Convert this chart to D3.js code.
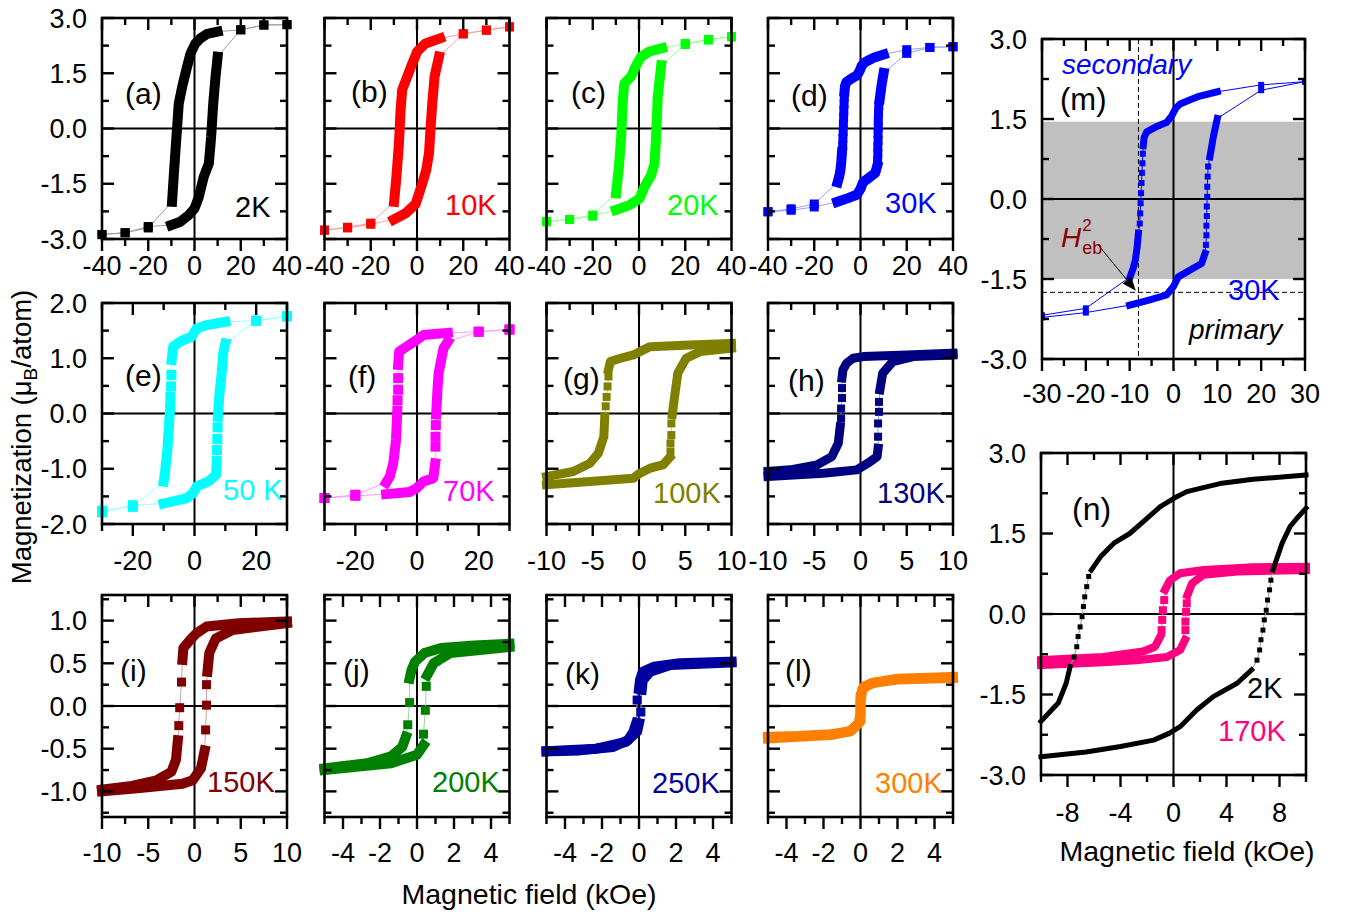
<!DOCTYPE html>
<html>
<head>
<meta charset="utf-8">
<script src="https://cdn.jsdelivr.net/npm/d3@7"></script>
<style>
  html, body { margin: 0; padding: 0; background: #fff; }
  svg { display: block; }
</style>
</head>
<body>
<svg id="fig" width="1349" height="916"></svg>
<script>
// ---------------------------------------------------------------------------
// Hysteresis loops M(H). Each branch is a list of [H (kOe), M (muB/atom)]
// points; null separates runs. A run of several points is a densely measured
// stretch (drawn as a thick band), a run of one point is a single marker.
// ---------------------------------------------------------------------------
const _ = null;

const T2K_down = [[40,2.82],_,[30,2.81],_,[20,2.68],_,[10,2.63],[5.5,2.57],[2.6,2.45],[0.4,2.31],[-1.7,2.04],[-3.2,1.68],[-5.3,1.14],[-6.8,0.68],[-7.5,0.05],[-8.3,-0.67],[-9,-1.31],[-9.7,-1.99],_,[-20,-2.7],_,[-30,-2.83],_,[-40,-2.88]];
const T2K_up = [[-40,-2.88],_,[-30,-2.83],_,[-20,-2.66],_,[-10,-2.62],[-6.1,-2.53],[-2.5,-2.35],[0,-2.17],[1.9,-1.85],[4,-1.31],[6.2,-0.95],[7.2,-0.22],[8.1,0.68],[9.1,1.41],[10,1.95],_,[20,2.68],_,[30,2.81],_,[40,2.82]];

const T10K_down = [[40,2.76],_,[30,2.67],_,[20,2.57],_,[10,2.45],[3.7,2.31],[0.1,2.09],[-2,1.77],[-4.2,1.41],[-6.4,1.05],[-7.1,0.5],[-7.8,-0.4],[-8.9,-1.31],[-9.9,-1.99],_,[-20,-2.57],_,[-30,-2.68],_,[-40,-2.76]];
const T10K_up = [[-40,-2.76],_,[-30,-2.7],_,[-20,-2.6],_,[-10,-2.47],[-4.9,-2.3],[-0.6,-2.05],[2.3,-1.49],[4,-1.13],[5.2,-0.67],[5.9,0.05],[6.6,0.68],[7.6,1.41],[9.5,1.95],_,[20,2.57],_,[30,2.67],_,[40,2.76]];

const T20K_down = [[40,2.49],_,[30,2.42],_,[20,2.31],_,[10,2.18],[4.5,2.09],[0.9,1.95],[-1.2,1.72],[-3.4,1.41],[-6.3,1.23],[-7,0.77],[-7.7,-0.22],[-8.7,-1.04],[-9.9,-1.76],_,[-20,-2.35],_,[-30,-2.47],_,[-40,-2.53]];
const T20K_up = [[-40,-2.53],_,[-30,-2.47],_,[-20,-2.38],_,[-10,-2.21],[-4.1,-2.08],[0.2,-1.9],[2.4,-1.58],[5.3,-1.26],[6.7,-0.95],[7.4,-0.22],[8.1,0.86],[9.6,1.72],_,[20,2.28],_,[30,2.4],_,[40,2.49]];

const T30K_down = [[40,2.22],_,[30,2.2],_,[20,2.14],_,[10,2.01],[6,1.93],[3.8,1.86],[1.5,1.78],[0.5,1.7],[-0.4,1.56],[-1.5,1.44],[-3.8,1.36],[-6.1,1.26],[-6.7,1.15],[-6.9,1.0],_,[-7.0,0.85],_,[-7.1,0.67],_,[-7.2,0.49],_,[-7.3,0.3],_,[-7.4,0.11],_,[-7.5,-0.08],_,[-7.6,-0.27],_,[-7.7,-0.46],_,[-8.0,-0.64],[-8.3,-0.9],[-8.7,-1.14],[-9.2,-1.3],[-9.9,-1.46],_,[-20,-2.05],_,[-30,-2.18],_,[-40,-2.26]];
const T30K_up = [[-40,-2.26],_,[-30,-2.22],_,[-20,-2.13],_,[-10,-1.99],[-5.4,-1.89],[-1.6,-1.8],[0,-1.64],[1.1,-1.46],[3.8,-1.33],[6.4,-1.21],[7.2,-1.02],_,[7.4,-0.86],_,[7.5,-0.68],_,[7.5,-0.5],_,[7.6,-0.32],_,[7.6,-0.14],_,[7.7,0.04],_,[7.7,0.23],_,[7.8,0.42],_,[7.9,0.61],_,[8.3,0.79],[9.1,1.17],[10,1.51],_,[20,2.04],_,[30,2.2],_,[40,2.22]];

const T50K_down = [[30,1.76],_,[20,1.68],_,[10,1.66],[4,1.6],[0.7,1.54],[-0.9,1.39],[-4.7,1.3],[-6.9,1.21],[-7.4,0.97],_,[-7.5,0.7],_,[-7.6,0.49],_,[-7.8,0.3],_,[-7.9,0.12],_,[-8.1,-0.06],[-8.8,-0.66],[-9.6,-1.08],[-10,-1.23],_,[-20,-1.69],_,[-30,-1.76]];
const T50K_up = [[-30,-1.79],_,[-20,-1.66],_,[-10,-1.63],[-2.5,-1.53],[-0.4,-1.44],[0.7,-1.32],[4.5,-1.23],[7,-1.11],[7.2,-0.86],_,[7.3,-0.66],_,[7.4,-0.46],_,[7.5,-0.25],_,[7.6,-0.06],[8,0.3],[8.8,0.73],[9.3,1.09],[10,1.27],_,[20,1.68],_,[30,1.76]];

const T70K_down = [[30,1.52],_,[20,1.48],_,[10,1.46],[2.1,1.42],[-0.1,1.33],[-3.4,1.21],[-5.8,1.12],[-6.1,0.88],_,[-6.1,0.64],_,[-6.1,0.43],_,[-6.3,0.24],_,[-6.4,0.05],[-6.8,-0.48],[-7.7,-0.9],[-8.8,-1.14],[-10,-1.25],_,[-20,-1.47],_,[-30,-1.53]];
const T70K_up = [[-30,-1.53],_,[-20,-1.49],_,[-10,-1.46],[-2.3,-1.42],[-0.1,-1.35],[2.1,-1.23],[5.3,-1.17],[5.9,-0.9],_,[6.0,-0.6],_,[6.0,-0.42],_,[6.1,-0.21],_,[6.2,-0.02],[6.6,0.4],[7,0.73],[8.6,1.18],[10,1.3],_,[20,1.48],_,[30,1.52]];

const T100K_down = [[10,1.27],[5.5,1.24],[1.2,1.21],[0.1,1.12],[-0.6,1.06],[-2,1.0],[-3.1,0.94],[-3.3,0.79],_,[-3.3,0.67],_,[-3.4,0.49],_,[-3.5,0.3],_,[-3.6,0.13],_,[-3.7,-0.06],[-3.8,-0.42],[-4.4,-0.72],[-5.3,-0.9],[-7.1,-1.05],[-10,-1.14]];
const T100K_up = [[-10,-1.29],[-5.3,-1.23],[-0.6,-1.17],[0.1,-1.08],[1.2,-0.99],[2.6,-0.93],[3.3,-0.8],_,[3.4,-0.69],_,[3.4,-0.54],_,[3.5,-0.39],_,[3.5,-0.18],_,[3.6,-0.02],[3.9,0.37],[4.2,0.73],[5.1,1.0],[6.6,1.12],[10,1.18]];

const T130K_down = [[10,1.09],[5,1.06],[0.3,1.03],[-0.8,1.0],[-1.5,0.91],[-1.9,0.79],[-2,0.64],_,[-2,0.46],_,[-2,0.28],_,[-2.1,0.09],_,[-2.1,-0.09],_,[-2.2,-0.24],[-2.4,-0.54],[-3.1,-0.78],[-4.7,-0.93],[-7.6,-1.02],[-10,-1.05]];
const T130K_up = [[-10,-1.14],[-4,-1.08],[-0.4,-1.02],[0.8,-0.9],[1.8,-0.78],[1.9,-0.63],_,[1.9,-0.42],_,[1.9,-0.18],_,[2.0,0.03],_,[2.0,0.21],_,[2.1,0.43],[2.4,0.73],[3.5,0.94],[5.7,1.03],[10,1.06]];

const T150K_down = [[10,0.99],[4.8,0.97],[1.3,0.93],[0.2,0.85],[-0.5,0.77],[-1.2,0.68],[-1.3,0.54],_,[-1.4,0.28],_,[-1.6,-0.02],_,[-1.7,-0.23],_,[-1.8,-0.4],[-2,-0.63],[-2.5,-0.77],[-4.1,-0.87],[-7,-0.94],[-10,-0.98]];
const T150K_up = [[-10,-1.0],[-5.9,-0.96],[-1.3,-0.91],[-0.2,-0.87],[0.7,-0.73],[1.1,-0.52],_,[1.2,-0.28],_,[1.3,0.01],_,[1.3,0.25],_,[1.4,0.4],[1.6,0.62],[2.3,0.79],[4.1,0.89],[10,0.97]];

const T200K_down = [[5,0.73],[3.1,0.71],[1.3,0.68],[0.4,0.62],[-0.1,0.52],[-0.3,0.42],[-0.4,0.32],_,[-0.4,0.04],_,[-0.5,-0.22],_,[-0.6,-0.36],[-0.8,-0.48],[-1.4,-0.59],[-2.7,-0.67],[-5,-0.73]];
const T200K_up = [[-5,-0.75],[-1.4,-0.67],[0,-0.57],[0.35,-0.46],_,[0.35,-0.33],_,[0.45,-0.05],_,[0.5,0.23],_,[0.55,0.36],[0.9,0.5],[1.8,0.62],[5,0.69]];

const T250K_down = [[5,0.52],[2.2,0.5],[0.8,0.46],[0.2,0.4],[0.05,0.3],[0,0.2],_,[-0.1,0.07],_,[-0.15,-0.2],[-0.3,-0.3],[-0.6,-0.4],[-1.4,-0.48],[-3.2,-0.52],[-5,-0.53]];
const T250K_up = [[-5,-0.53],[-2.3,-0.5],[-0.7,-0.42],[-0.1,-0.3],[0,-0.2],_,[0.1,-0.07],_,[0.15,0.19],[0.2,0.3],[0.6,0.4],[1.7,0.48],[5,0.51]];

const T300K_down = [[5,0.34],[2,0.32],[0.9,0.28],[0.2,0.23],[0,0.13],[0,-0.09],[-0.1,-0.2],[-0.6,-0.3],[-1.6,-0.33],[-3.4,-0.35],[-5,-0.36]];
const T300K_up = [[-5,-0.38],[-3.4,-0.36],[-1.6,-0.34],[-0.5,-0.29],[0,-0.18],[0,0.05],[0.1,0.2],[0.6,0.27],[2,0.31],[5,0.33]];

// minor loops (+/-10 kOe) of panel (n)
const N2K_down = [[10,2.59],[6,2.51],[3.5,2.43],[1,2.28],[0.06,2.16],[-1,2.0],[-2,1.78],[-3.3,1.5],[-4.5,1.32],[-5.5,1.07],[-6.2,0.82],_,[-6.4,0.7],_,[-6.55,0.51],_,[-6.7,0.32],_,[-6.8,0.14],_,[-6.9,-0.05],_,[-7.05,-0.24],_,[-7.2,-0.42],_,[-7.3,-0.61],_,[-7.5,-0.8],_,[-7.8,-0.98],[-8.1,-1.29],[-8.7,-1.66],[-10,-2.0]];
const N2K_up = [[-10,-2.66],[-6.6,-2.57],[-4,-2.47],[-1.5,-2.35],[-0.3,-2.22],[0.5,-2.1],[1.75,-1.79],[3,-1.54],[4.8,-1.29],[5.9,-1.04],_,[6.3,-0.86],_,[6.5,-0.67],_,[6.6,-0.48],_,[6.75,-0.3],_,[6.85,-0.11],_,[7.0,0.07],_,[7.1,0.26],_,[7.25,0.45],_,[7.35,0.63],_,[7.5,0.82],[8.2,1.32],[8.8,1.63],[9.3,1.78],[10,1.97]];
const N170K_down = [[10,0.88],[6,0.87],[2.25,0.82],[0.5,0.76],[-0.26,0.63],[-0.64,0.45],_,[-0.7,0.26],_,[-0.8,0.07],_,[-0.85,-0.11],_,[-0.9,-0.3],_,[-1,-0.42],[-1.4,-0.61],[-2.3,-0.7],[-5.3,-0.8],[-10,-0.86]];
const N170K_up = [[-10,-0.95],[-5.3,-0.9],[-2.8,-0.86],[-0.5,-0.8],[0.5,-0.67],[0.87,-0.48],_,[0.9,-0.3],_,[0.9,-0.14],_,[0.95,0.04],_,[1.0,0.2],_,[1.05,0.35],[1.4,0.57],[2.25,0.73],[4.8,0.79],[10,0.82]];

// tick labels
const xTicks40 = [-40,-20,0,20,40];
const xTicks30 = [-20,0,20];
const xTicks10 = [-10,-5,0,5,10];
const xTicks5 = [-4,-2,0,2,4];
const xTicksM = [-30,-20,-10,0,10,20,30];
const xTicksN = [-8,-4,0,4,8];
const yTicks3 = [3,1.5,0,-1.5,-3];
const yTicks2 = [2,1,0,-1,-2];
const yTicks1 = [1,0.5,0,-0.5,-1];

// panel tags and temperatures
const panelTags = ['(a)','(b)','(c)','(d)','(e)','(f)','(g)','(h)','(i)','(j)','(k)','(l)','(m)','(n)'];
const tempLabels = ['2K','10K','20K','30K','50 K','70K','100K','130K','150K','200K','250K','300K','30K','2K','170K'];

// panel (m) annotations
const bandM = [-1.5, 1.45];        // shaded M range
const hebField = -8;               // dashed vertical (kOe)
const hebMoment = -1.75;           // dashed horizontal
const arrowFrom = [-17.2, -0.86];
const arrowTo = [-8.6, -1.72];

// ---------------------------------------------------------------------------
const FONT = '"Liberation Sans", Arial, Helvetica, sans-serif';
const svg = d3.select('#fig');

const colX = [102, 324.5, 546.5, 768];
const rowY = [{y:18, h:221}, {y:303, h:221}, {y:595, h:222}];
const rowFmt = [
  {yd:[-3,3], yMinor:0.75, yMajor:1.5, yLab:yTicks3, xLabY:275},
  {yd:[-2,2], yMinor:0.5, yMajor:1, yLab:yTicks2, xLabY:570},
  {yd:[-1.3,1.3], yMinor:0.25, yMajor:0.5, yLab:yTicks1, xLabY:862}
];

const C = {
  a:'#000000', b:'#ff0000', c:'#00ff00', d:'#0000ff', e:'#00ffff', f:'#ff00ff',
  g:'#808000', h:'#000080', i:'#800000', j:'#008000', k:'#0000a0', l:'#ff8000',
  pink:'#ff0080'
};

function gridPanel(idx, col, row, xd, xMinor, xMajor, xLab, series, color, band, marker, tagPos, tempPos) {
  const r = rowY[row], f = rowFmt[row];
  return {
    x: colX[col], y: r.y, w: 185, h: r.h, xd, yd: f.yd,
    xMinor, xMajor, yMinor: f.yMinor, yMajor: f.yMajor,
    xLab, yLab: col === 0 ? f.yLab : null, xLabY: f.xLabY,
    series: series.map(s => ({down: s[0], up: s[1], color, band, marker, thin: 0.62})),
    texts: [
      {t: panelTags[idx], x: tagPos[0], y: tagPos[1], size: 30, fill: '#000'},
      {t: tempLabels[idx], x: tempPos[0], y: tempPos[1], size: 29, fill: color}
    ]
  };
}

const panels = [
  gridPanel(0, 0, 0, [-40,40], 10, 20, xTicks40, [[T2K_down, T2K_up]], C.a, 10, 9, [125,104], [235,217]),
  gridPanel(1, 1, 0, [-40,40], 10, 20, xTicks40, [[T10K_down, T10K_up]], C.b, 10, 9, [351,102], [445,215]),
  gridPanel(2, 2, 0, [-40,40], 10, 20, xTicks40, [[T20K_down, T20K_up]], C.c, 10, 9, [571,103], [667,215]),
  gridPanel(3, 3, 0, [-40,40], 10, 20, xTicks40, [[T30K_down, T30K_up]], C.d, 10, 9, [791,106], [885,213]),
  gridPanel(4, 0, 1, [-30,30], 10, 20, xTicks30, [[T50K_down, T50K_up]], C.e, 10, 10, [125,386], [223,500]),
  gridPanel(5, 1, 1, [-30,30], 10, 20, xTicks30, [[T70K_down, T70K_up]], C.f, 10, 10, [348,387], [443,501]),
  gridPanel(6, 2, 1, [-10,10], 2.5, 5, xTicks10, [[T100K_down, T100K_up]], C.g, 9, 8, [563,389], [653,503]),
  gridPanel(7, 3, 1, [-10,10], 2.5, 5, xTicks10, [[T130K_down, T130K_up]], C.h, 9, 8, [788,391], [877,503]),
  gridPanel(8, 0, 2, [-10,10], 2.5, 5, xTicks10, [[T150K_down, T150K_up]], C.i, 10, 9, [120,681], [207,792]),
  gridPanel(9, 1, 2, [-5,5], 1, 2, xTicks5, [[T200K_down, T200K_up]], C.j, 10, 9, [343,681], [432,792]),
  gridPanel(10, 2, 2, [-5,5], 1, 2, xTicks5, [[T250K_down, T250K_up]], C.k, 10, 9, [565,684], [652,793]),
  gridPanel(11, 3, 2, [-5,5], 1, 2, xTicks5, [[T300K_down, T300K_up]], C.l, 10, 9, [785,681], [875,793]),
  {
    key: 'm', x: 1042, y: 39, w: 263, h: 320, xd: [-30,30], yd: [-3,3], clip: true,
    xMinor: 5, xMajor: 10, yMinor: 0.75, yMajor: 1.5, xLab: xTicksM, yLab: yTicks3, xLabY: 403,
    series: [{down: T30K_down, up: T30K_up, color: C.d, band: 7, marker: 6, thin: 0}],
    texts: [
      {t: 'secondary', x: 1062, y: 74, size: 28, fill: C.d, italic: true},
      {t: panelTags[12], x: 1060, y: 110, size: 31, fill: '#000'},
      {t: tempLabels[12], x: 1228, y: 300, size: 29, fill: C.d},
      {t: 'primary', x: 1189, y: 339, size: 28, fill: '#000', italic: true}
    ]
  },
  {
    key: 'n', x: 1041, y: 453, w: 265, h: 322, xd: [-10,10], yd: [-3,3],
    xMinor: 2, xMajor: 4, yMinor: 0.75, yMajor: 1.5, xLab: xTicksN, yLab: yTicks3, xLabY: 822,
    series: [
      {down: N170K_down, up: N170K_up, color: C.pink, band: 8, marker: 8, thin: 0.5},
      {down: N2K_down, up: N2K_up, color: '#000000', band: 5, marker: 5, thin: 0.6}
    ],
    texts: [
      {t: panelTags[13], x: 1072, y: 520, size: 32, fill: '#000'},
      {t: tempLabels[13], x: 1247, y: 698, size: 29, fill: '#000'},
      {t: tempLabels[14], x: 1218, y: 741, size: 29, fill: C.pink}
    ]
  }
];

// ---------------------------------------------------------------------------
function addText(sel, x, y, str, o = {}) {
  const t = sel.append('text')
    .attr('x', x).attr('y', y)
    .attr('font-family', FONT)
    .attr('font-size', o.size || 27)
    .attr('text-anchor', o.anchor || 'start')
    .attr('fill', o.fill || '#000');
  if (o.italic) t.attr('font-style', 'italic');
  if (o.dy) t.attr('dy', o.dy);
  t.text(str);
  return t;
}

function splitRuns(arr) {
  const out = [];
  let cur = [];
  arr.forEach(p => {
    if (p === null) { if (cur.length) out.push(cur); cur = []; }
    else cur.push(p);
  });
  if (cur.length) out.push(cur);
  return out;
}

function tickSet(dom, minor, major) {
  const start = Math.ceil(dom[0] / minor - 1e-9);
  const end = Math.floor(dom[1] / minor + 1e-9);
  return d3.range(start, end + 1).map(k => {
    const v = k * minor;
    return {v, major: Math.abs(v / major - Math.round(v / major)) < 1e-6};
  });
}

const fmtY = v => { const s = v.toFixed(1); return s === '-0.0' ? '0.0' : s; };

const defs = svg.append('defs');

panels.forEach((p, pi) => {
  const xs = d3.scaleLinear().domain(p.xd).range([p.x, p.x + p.w]);
  const ys = d3.scaleLinear().domain(p.yd).range([p.y + p.h, p.y]);
  const g = svg.append('g');
  const x0 = p.x, x1 = p.x + p.w, y0 = p.y, y1 = p.y + p.h;

  let plotG = g;
  if (p.clip) {
    const id = 'clip' + pi;
    defs.append('clipPath').attr('id', id)
      .append('rect').attr('x', x0).attr('y', y0).attr('width', p.w).attr('height', p.h);
    plotG = g.append('g').attr('clip-path', `url(#${id})`);
  }

  // shaded region of panel (m)
  if (p.key === 'm') {
    plotG.append('rect')
      .attr('x', x0).attr('width', p.w)
      .attr('y', ys(bandM[1])).attr('height', ys(bandM[0]) - ys(bandM[1]))
      .attr('fill', '#c0c0c0');
  }

  // zero lines
  plotG.append('line').attr('x1', xs(0)).attr('x2', xs(0)).attr('y1', y0).attr('y2', y1)
    .attr('stroke', '#000').attr('stroke-width', 2);
  plotG.append('line').attr('x1', x0).attr('x2', x1).attr('y1', ys(0)).attr('y2', ys(0))
    .attr('stroke', '#000').attr('stroke-width', 2);

  if (p.key === 'm') {
    plotG.append('line').attr('x1', xs(hebField)).attr('x2', xs(hebField)).attr('y1', y0).attr('y2', y1)
      .attr('stroke', '#000').attr('stroke-width', 1).attr('stroke-dasharray', '5,3');
    plotG.append('line').attr('x1', x0).attr('x2', x1).attr('y1', ys(hebMoment)).attr('y2', ys(hebMoment))
      .attr('stroke', '#000').attr('stroke-width', 1).attr('stroke-dasharray', '5,3');
  }

  // loops
  const line = d3.line().x(d => xs(d[0])).y(d => ys(d[1]));
  p.series.forEach(s => {
    const thinColor = s.thin > 0 ? d3.interpolateRgb(s.color, '#ffffff')(s.thin) : s.color;
    [s.down, s.up].forEach(branch => {
      plotG.append('path').attr('d', line(branch.filter(d => d)))
        .attr('fill', 'none').attr('stroke', thinColor).attr('stroke-width', 1);
    });
    [s.down, s.up].forEach(branch => {
      splitRuns(branch).forEach(run => {
        if (run.length > 1) {
          plotG.append('path').attr('d', line(run))
            .attr('fill', 'none').attr('stroke', s.color)
            .attr('stroke-width', s.band)
            .attr('stroke-linecap', 'square').attr('stroke-linejoin', 'round');
        } else {
          const d = run[0];
          plotG.append('rect')
            .attr('x', xs(d[0]) - s.marker / 2).attr('y', ys(d[1]) - s.marker / 2)
            .attr('width', s.marker).attr('height', s.marker)
            .attr('fill', s.color);
        }
      });
    });
  });

  // frame and ticks
  g.append('rect').attr('x', x0).attr('y', y0).attr('width', p.w).attr('height', p.h)
    .attr('fill', 'none').attr('stroke', '#000').attr('stroke-width', 2.6);
  const LMAJ = 12, LMIN = 7;
  const tg = g.append('g').attr('stroke', '#000').attr('stroke-width', 2.4);
  tickSet(p.xd, p.xMinor, p.xMajor).forEach(t => {
    const x = xs(t.v), L = t.major ? LMAJ : LMIN;
    tg.append('line').attr('x1', x).attr('x2', x).attr('y1', y0).attr('y2', y0 + L);
    tg.append('line').attr('x1', x).attr('x2', x).attr('y1', y1).attr('y2', y1 + L);
  });
  tickSet(p.yd, p.yMinor, p.yMajor).forEach(t => {
    const y = ys(t.v), L = t.major ? LMAJ : LMIN;
    tg.append('line').attr('x1', x0).attr('x2', x0 + L).attr('y1', y).attr('y2', y);
    tg.append('line').attr('x1', x1).attr('x2', x1 - L).attr('y1', y).attr('y2', y);
  });

  // tick labels
  p.xLab.forEach(v => addText(g, xs(v), p.xLabY, String(v), {anchor: 'middle', size: 27}));
  if (p.yLab) {
    p.yLab.forEach(v => addText(g, x0 - 15, ys(v), fmtY(v), {anchor: 'end', size: 27, dy: '0.36em'}));
  }

  // in-panel labels
  p.texts.forEach(t => addText(g, t.x, t.y, t.t, {size: t.size, fill: t.fill, italic: t.italic}));

  // exchange-bias arrow and its label in panel (m)
  if (p.key === 'm') {
    const ax = xs(arrowFrom[0]), ay = ys(arrowFrom[1]);
    const bx = xs(arrowTo[0]), by = ys(arrowTo[1]);
    const len = Math.hypot(bx - ax, by - ay);
    const ux = (bx - ax) / len, uy = (by - ay) / len;
    const hl = 14, hw = 5.5;
    g.append('line').attr('x1', ax).attr('y1', ay)
      .attr('x2', bx - ux * hl * 0.8).attr('y2', by - uy * hl * 0.8)
      .attr('stroke', '#000').attr('stroke-width', 1);
    const bxh = bx - ux * hl, byh = by - uy * hl;
    g.append('polygon')
      .attr('points', [[bx, by], [bxh - uy * hw, byh + ux * hw], [bxh + uy * hw, byh - ux * hw]].map(q => q.join(',')).join(' '))
      .attr('fill', '#000');
    const ht = g.append('text').attr('x', 1061).attr('y', 247)
      .attr('font-family', FONT).attr('fill', '#8b0000');
    ht.append('tspan').attr('font-size', 28).attr('font-style', 'italic').text('H');
    ht.append('tspan').attr('font-size', 17).attr('dx', 1).attr('dy', -16).text('2');
    ht.append('tspan').attr('font-size', 18).attr('dx', -9.5).attr('dy', 23).text('eb');
  }
});

// axis titles
addText(svg, 529, 904, 'Magnetic field (kOe)', {anchor: 'middle', size: 28.5});
addText(svg, 1187, 861, 'Magnetic field (kOe)', {anchor: 'middle', size: 28.5});
const yt = svg.append('text')
  .attr('transform', 'translate(31,437) rotate(-90)')
  .attr('text-anchor', 'middle').attr('font-family', FONT).attr('font-size', 27.5).attr('fill', '#000');
yt.append('tspan').text('Magnetization (\u03bc');
yt.append('tspan').attr('font-size', 19).attr('dy', 6).text('B');
yt.append('tspan').attr('dy', -6).text('/atom)');
</script>
</body>
</html>
